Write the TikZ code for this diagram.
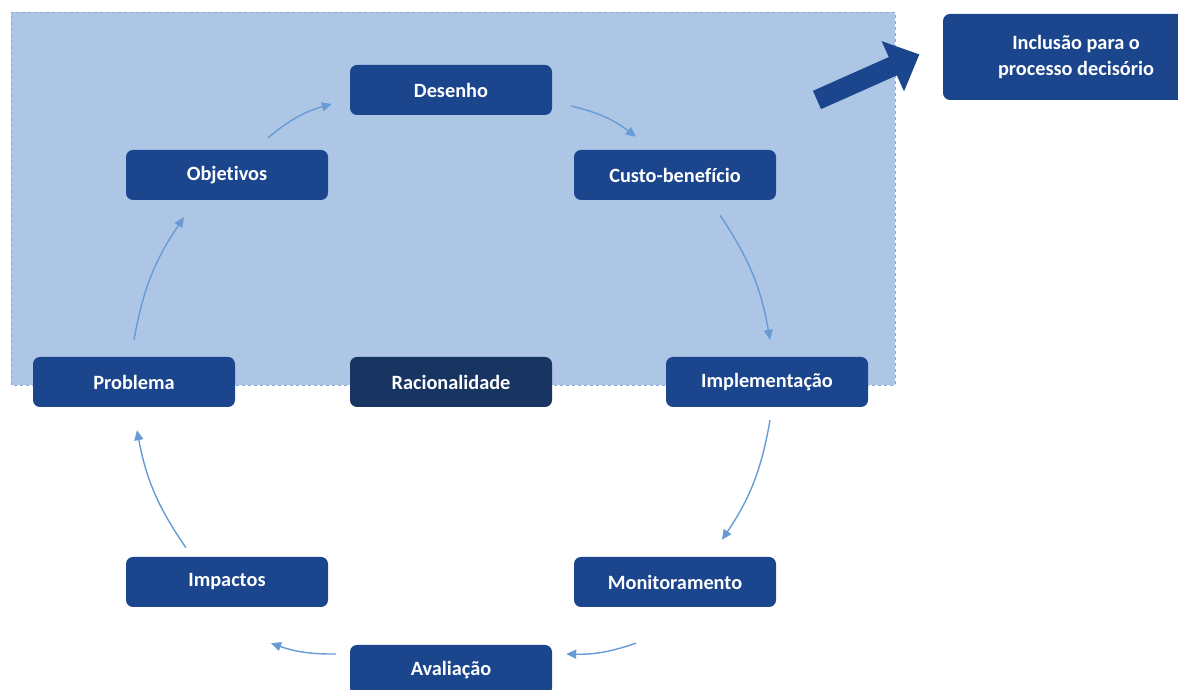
\documentclass[tikz,border=0pt]{standalone}
\usepackage{fontspec}
\setmainfont{Carlito}[Ligatures={NoCommon}]
\usetikzlibrary{arrows.meta}
\definecolor{panel}{RGB}{173,198,230}
\definecolor{paneledge}{RGB}{140,168,210}
\definecolor{boxblue}{RGB}{27,70,142}
\definecolor{boxdark}{RGB}{24,52,97}
\definecolor{flow}{RGB}{104,155,212}
\tikzset{
  stage/.style={draw=none, fill=boxblue, rounded corners=7pt, minimum width=202pt,
    minimum height=50pt, inner sep=0pt, text=white,
    font=\fontsize{20.3}{24}\selectfont\bfseries},
  flowarrow/.style={draw=flow, line width=1.4pt,
    -{Triangle[length=10pt,width=9pt]}},
}
\begin{document}
\begin{tikzpicture}[x=1pt,y=1pt]
\useasboundingbox (0,0) rectangle (1178,690);
% shaded area with dashed outline
\draw[paneledge, fill=panel, dashed, line width=0.8pt] (11,305) rectangle (895,678);

% cycle stages
\node[stage] (des) at (451,600) {Desenho};
\node[stage] (obj) at (227,515) {Objetivos};
\node[stage] (cb)  at (675,515) {Custo-benefício};
\node[stage] (prob) at (134,308) {Problema};
\node[stage, fill=boxdark] (rac) at (451,308) {Racionalidade};
\node[stage] (impl) at (767,308) {Implementação};
\node[stage] (imp) at (227,108) {Impactos};
\node[stage] (mon) at (675,108) {Monitoramento};
\node[stage] (ava) at (451,20) {Avaliação};
\node[stage, minimum width=266pt, minimum height=86pt, align=center,
      font=\fontsize{20.3}{26}\selectfont\bfseries] (inc) at (1076,633)
      {Inclusão para o\\processo decisório};

% arrows around the cycle
\draw[flowarrow] ([xshift=41,yshift=12]obj.north) to[bend left=12] ([xshift=-18,yshift=-14]des.west);
\draw[flowarrow] ([xshift=19,yshift=-16]des.east) to[bend left=12] ([xshift=-39,yshift=13]cb.north);
\draw[flowarrow] ([xshift=45,yshift=-15]cb.south) to[bend left=12] ([xshift=3,yshift=17]impl.north);
\draw[flowarrow] ([xshift=3,yshift=-13]impl.south) to[bend left=12] ([xshift=47,yshift=17]mon.north);
\draw[flowarrow] ([xshift=-39,yshift=-36]mon.south) to[bend left=10] ([xshift=14,yshift=16]ava.east);
\draw[flowarrow] ([xshift=-14,yshift=16]ava.west) to[bend left=10] ([xshift=44,yshift=-36]imp.south);
\draw[flowarrow] ([xshift=-41,yshift=9]imp.north) to[bend left=12] ([xshift=3,yshift=-23]prob.south);
\draw[flowarrow] ([xshift=0,yshift=17]prob.north) to[bend left=12] ([xshift=-43,yshift=-17]obj.south);

% broad arrow towards the decision box
\begin{scope}[shift={(817,590)}, rotate=24]
  \fill[boxblue] (0,-10) -- (83,-10) -- (83,-27.5) -- (112,0) -- (83,27.5) -- (83,10) -- (0,10) -- cycle;
\end{scope}
\end{tikzpicture}
\end{document}
